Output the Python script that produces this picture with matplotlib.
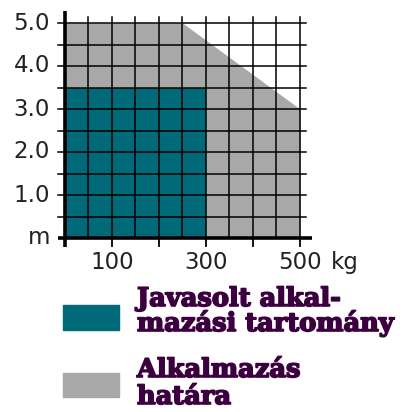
import matplotlib
matplotlib.use("Agg")
import matplotlib.pyplot as plt
import matplotlib.patheffects as pe
import numpy as np

# ---- data ----
limit_x = [0, 250, 500, 500]          # kg, boundary of "Alkalmazás határa"
limit_y = [5.0, 5.0, 3.0, 0.0]        # m
recommended_x = [0, 300]              # kg
recommended_y = 3.5                   # m
x_ticks = [100, 300, 500]
x_tick_labels = ["100", "300", "500"]
y_ticks = [0, 1, 2, 3, 4, 5]
y_tick_labels = ["m", "1.0", "2.0", "3.0", "4.0", "5.0"]
legend_labels = [["Javasolt alkal-", "mazási tartomány"], ["Alkalmazás", "határa"]]

TEAL = "#006a78"
GRAY = "#a8a8a8"
TXT = "#3c0040"

W, H = 406, 412
fig = plt.figure(figsize=(W / 100, H / 100), dpi=100)
def fx(px): return px / W
def fy(py): return 1 - py / H

x0p, x1p, y0p, y1p = 65, 300, 238, 23
ax = fig.add_axes([fx(x0p), fy(y0p), (x1p - x0p) / W, (y0p - y1p) / H])
ax.set_xlim(0, 500)
ax.set_ylim(0, 5)
for s in ax.spines.values():
    s.set_visible(False)

# gray limit polygon
ax.fill_between(limit_x, limit_y, 0, color=GRAY, lw=0, zorder=1)
# teal recommended range
ax.fill_between(recommended_x, recommended_y, 0, color=TEAL, lw=0, zorder=2)

# grid
for gx in np.arange(0, 501, 50):
    ax.plot([gx, gx], [0, 5.15], color="black", lw=1.1, zorder=3, clip_on=False)
for gy in np.arange(0.5, 5.01, 0.5):
    ax.plot([-14, 512], [gy, gy], color="black", lw=1.1, zorder=3, clip_on=False)

# thick axes
ax.plot([0, 0], [-0.2, 5.28], color="black", lw=2.6, zorder=4, clip_on=False, solid_capstyle="butt")
ax.plot([-14, 525], [0, 0], color="black", lw=2.6, zorder=4, clip_on=False, solid_capstyle="butt")
for tx in range(0, 501, 100):
    ax.plot([tx, tx], [0, -0.18], color="black", lw=1.3, zorder=4, clip_on=False)

ax.set_xticks([])
ax.set_yticks([])

TICK_FS = 16.5
for v, lab in zip(y_ticks, y_tick_labels):
    ax.text(-32, v, lab, ha="right", va="center", fontsize=TICK_FS, color="#222222",
            family="DejaVu Sans", clip_on=False)
for v, lab in zip(x_ticks, x_tick_labels):
    ax.text(v, -0.3, lab, ha="center", va="top", fontsize=TICK_FS, color="#222222",
            family="DejaVu Sans", clip_on=False)
ax.text(566, -0.3, "kg", ha="left", va="top", fontsize=TICK_FS, color="#222222",
        family="DejaVu Sans", clip_on=False)

# legend
fig.patches.append(plt.Rectangle((fx(63), fy(330)), 56 / W, 25 / H, color=TEAL,
                                 transform=fig.transFigure, figure=fig))
fig.patches.append(plt.Rectangle((fx(63), fy(397)), 56 / W, 24 / H, color=GRAY,
                                 transform=fig.transFigure, figure=fig))
baselines = [[306, 331], [377, 404]]
for lines, bls in zip(legend_labels, baselines):
    for txt, b in zip(lines, bls):
        fig.text(fx(137), fy(b), txt, ha="left", va="baseline", fontsize=18.5,
                 fontweight="bold", family="DejaVu Serif", color=TXT,
                 path_effects=[pe.withStroke(linewidth=1.2, foreground=TXT)])

fig.savefig("out.png", dpi=100)
